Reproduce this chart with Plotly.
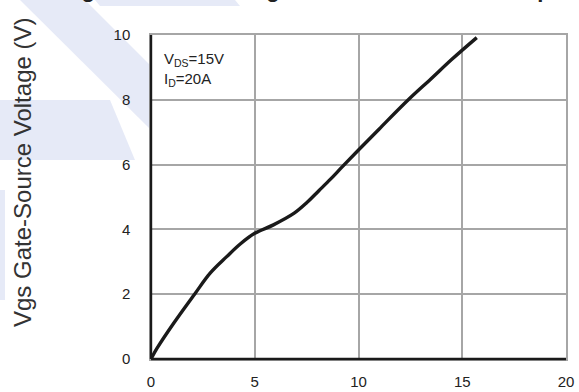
import plotly.graph_objects as go

# Data
qg = [0, 0.3, 1.1, 2.1, 2.85, 3.65, 4.3, 5.0, 5.9, 6.9, 7.5, 8.1, 8.65, 9.2, 10.0, 11.0, 12.4, 13.5, 14.5, 15.7]
vgs = [0, 0.34, 1.11, 2.0, 2.65, 3.16, 3.55, 3.88, 4.14, 4.5, 4.82, 5.2, 5.55, 5.92, 6.45, 7.1, 8.0, 8.65, 9.25, 9.92]
x_ticks = [0, 5, 10, 15, 20]
y_ticks = [0, 2, 4, 6, 8, 10]

W, H = 579, 392
L, R, T, B = 151, 13, 35, 33
pw, ph = W - L - R, H - T - B

def px(x):
    return (x - L) / pw

def py(y):
    return (H - B - y) / ph

fig = go.Figure()
fig.add_trace(go.Scatter(x=qg, y=vgs, mode="lines",
                         line=dict(color="#1a1a1a", width=3.4),
                         line_shape="spline", showlegend=False, hoverinfo="skip"))

wm = "rgba(200,208,238,0.45)"
shapes = []
polys = [
    [(20, 0), (85, 0), (151, 66), (151, 130)],
    [(0, 100), (110, 100), (135, 160), (0, 160)],
    [(0, 190), (5, 190), (5, 300), (0, 300)],
    [(95, 0), (235, 0), (240, 6), (100, 6)],
]
for poly in polys:
    path = "M " + " L ".join(f"{px(a):.4f},{py(b):.4f}" for a, b in poly) + " Z"
    shapes.append(dict(type="path", xref="paper", yref="paper", path=path,
                       fillcolor=wm, line=dict(width=0), layer="below"))
shapes.append(dict(type="line", xref="paper", yref="paper", x0=0, x1=0, y0=0, y1=1,
                   line=dict(color="#1a1a1a", width=2.4)))
shapes.append(dict(type="line", xref="paper", yref="paper", x0=0, x1=1, y0=0, y1=0,
                   line=dict(color="#1a1a1a", width=2.4)))

fig.update_layout(
    width=W, height=H,
    margin=dict(l=L, r=R, t=T, b=B),
    paper_bgcolor="white", plot_bgcolor="white",
    font=dict(family="Liberation Sans, Arial", color="#222", size=15),
    shapes=shapes,
    xaxis=dict(range=[0, 20], tickvals=x_ticks, showgrid=True, gridcolor="#a6a6a6",
               gridwidth=1.5, showline=True, linecolor="#a6a6a6", linewidth=1.5,
               mirror=True, zeroline=False, automargin=False, ticklabelstandoff=8,
               tickfont=dict(size=15, color="#222")),
    yaxis=dict(range=[0, 10], tickvals=y_ticks, showgrid=True, gridcolor="#a6a6a6",
               gridwidth=1.5, showline=True, linecolor="#a6a6a6", linewidth=1.5,
               mirror=True, zeroline=False, automargin=False, ticklabelstandoff=16,
               tickfont=dict(size=15, color="#222")),
    annotations=[
        dict(text="V<sub>DS</sub>=15V<br>I<sub>D</sub>=20A", xref="paper", yref="paper",
             x=px(162), y=py(48), xanchor="left", yanchor="top", align="left",
             showarrow=False, font=dict(size=15, color="#222")),
        dict(text="Vgs Gate-Source Voltage (V)", xref="paper", yref="paper",
             x=px(22), y=py(172), xanchor="center", yanchor="middle", textangle=-90,
             showarrow=False, font=dict(size=24, color="#333")),
        dict(text="<b>Figure 7: Gate Charge Characteristics vs Temperature</b>", xref="paper", yref="paper",
             x=px(60), y=1, xanchor="left", yanchor="bottom", yshift=31,
             showarrow=False, font=dict(size=22, color="#222")),
    ],
)

fig.write_html("out.html", config={"displayModeBar": False},
               post_script="document.body.style.margin='0px';")
